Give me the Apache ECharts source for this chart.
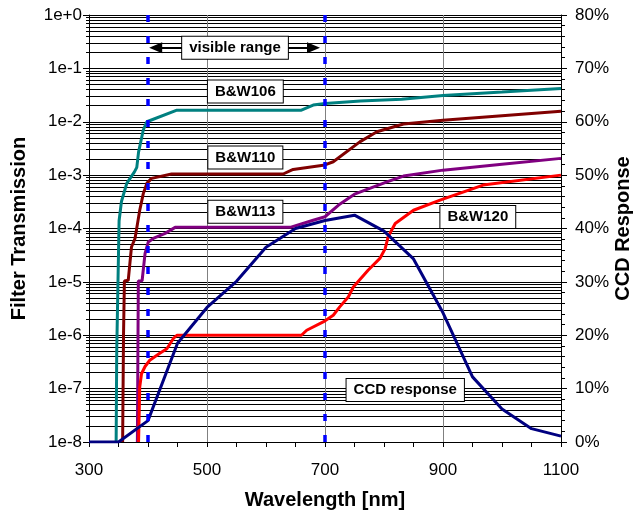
<!DOCTYPE html>
<html>
<head>
<meta charset="utf-8">
<script src="https://cdn.jsdelivr.net/npm/echarts@6/dist/echarts.min.js"></script>
<style>html,body{margin:0;padding:0;background:#fff;}#c{width:637px;height:512px;}</style>
</head>
<body>
<div id="c"></div>
<script>
// ---- data ----
var bw106Wl  = [346, 347, 351, 355, 364, 377, 381, 384, 392, 398, 449, 660, 680, 700, 760, 830, 900, 1000, 1100];
var bw106Val = [1e-8, 5e-7, 1.4e-4, 3.2e-4, 7e-4, 1.15e-3, 1.4e-3, 2.7e-3, 7e-3, 1e-2, 1.65e-2, 1.65e-2, 2.05e-2, 2.2e-2, 2.45e-2, 2.65e-2, 3.1e-2, 3.6e-2, 4.2e-2];

var bw110Wl  = [357, 358.5, 360, 366.5, 372, 378, 386, 392, 398, 406, 440, 629, 646, 700, 714, 759, 788, 833, 900, 1000, 1100];
var bw110Val = [1e-8, 1e-6, 1.04e-5, 1.07e-5, 4.5e-5, 6.5e-5, 2.2e-4, 4.5e-4, 7e-4, 8.7e-4, 1.05e-3, 1.05e-3, 1.28e-3, 1.55e-3, 1.78e-3, 4.2e-3, 6.5e-3, 9.1e-3, 1.07e-2, 1.3e-2, 1.57e-2];

var bw113Wl  = [382, 383.6, 390, 395, 400.5, 409, 429, 446, 641, 680, 700, 723, 750, 805, 833, 900, 1000, 1100];
var bw113Val = [1e-8, 1.04e-5, 1.05e-5, 3.4e-5, 5.6e-5, 6.5e-5, 8.1e-5, 1.05e-4, 1.05e-4, 1.43e-4, 1.66e-4, 2.75e-4, 4.4e-4, 7.5e-4, 9.6e-4, 1.24e-3, 1.6e-3, 2.06e-3];

var bw120Wl  = [384, 386, 389, 395, 403, 420, 432, 443, 449, 660, 669, 697, 714, 725, 739.5, 748, 773, 793, 802, 807, 819, 850, 895, 968, 1100];
var bw120Val = [1e-8, 1.07e-7, 1.9e-7, 2.6e-7, 3.4e-7, 4.6e-7, 5.6e-7, 8.7e-7, 1e-6, 1e-6, 1.24e-6, 1.78e-6, 2.37e-6, 3.4e-6, 5.2e-6, 8e-6, 1.65e-5, 2.75e-5, 4.2e-5, 7e-5, 1.24e-4, 2.2e-4, 3.4e-4, 6.5e-4, 1e-3];

var ccdWl  = [300, 350, 400, 450, 500, 550, 600, 650, 700, 750, 800, 850, 900, 950, 1000, 1050, 1100];
var ccdPct = [0, 0, 4, 18.5, 25.2, 30.1, 36.5, 40, 41.5, 42.5, 39.5, 34.3, 24.2, 12.2, 6.2, 2.5, 1.1];

var visibleRange = [400, 700];
var xTicks = {min: 300, max: 1100, interval: 200};
var logRange = {min: 1e-8, max: 1};
var pctTicks = {min: 0, max: 80, interval: 10};

// annotation anchors (data space)
var labels = [
  {text: 'B&W106', x: 565, y: 0.0368},
  {text: 'B&W110', x: 565, y: 2.13e-3},
  {text: 'B&W113', x: 565, y: 2.07e-4},
  {text: 'B&W120', x: 959, y: 1.65e-4},
  {text: 'CCD response', x: 836, y: 9.4e-8},
  {text: 'visible range', x: 547.5, y: 0.2426}
];
var arrowY = 0.2426;
var arrows = [[458.6, 413], [636, 680.5]];

function pairs(a, b) { return a.map(function (v, i) { return [v, b[i]]; }); }

var FONT = 'Liberation Sans, Arial, sans-serif';
var chart = echarts.init(document.getElementById('c'), null, {renderer: 'canvas'});

function lineSeries(name, wl, val, color, yIdx, z) {
  return {
    name: name, type: 'line', yAxisIndex: yIdx, data: pairs(wl, val),
    showSymbol: false, symbol: 'none', smooth: false, z: z,
    lineStyle: {color: color, width: 3}, itemStyle: {color: color},
    emphasis: {disabled: true}
  };
}

var option = {
  animation: false,
  backgroundColor: '#fff',
  textStyle: {fontFamily: FONT},
  grid: {left: 89, right: 76, top: 15, bottom: 70, containLabel: false, outerBoundsMode: 'none'},
  xAxis: {
    type: 'value', min: xTicks.min, max: xTicks.max, interval: xTicks.interval,
    name: 'Wavelength [nm]', nameLocation: 'middle', nameGap: 48,
    nameTextStyle: {fontFamily: FONT, fontSize: 20, fontWeight: 'bold', color: '#000'},
    axisLine: {show: true, lineStyle: {color: '#000', width: 1}},
    axisTick: {show: true, length: 5, lineStyle: {color: '#000'}},
    minorTick: {show: true, splitNumber: 4, length: 5, lineStyle: {color: '#000'}},
    axisLabel: {fontFamily: FONT, fontSize: 17, color: '#000', margin: 20,
      formatter: function (v) { return String(v); }},
    splitLine: {show: true, lineStyle: {color: '#808080', width: 1}}
  },
  yAxis: [
    {
      type: 'log', logBase: 10, min: logRange.min, max: logRange.max, splitNumber: 8,
      name: 'Filter Transmission', nameLocation: 'middle', nameGap: 60, nameRotate: 90,
      nameTextStyle: {fontFamily: FONT, fontSize: 20, fontWeight: 'bold', color: '#000'},
      axisLine: {show: true, lineStyle: {color: '#000', width: 1}},
      axisTick: {show: true, length: 6, lineStyle: {color: '#000'}},
      minorTick: {show: true, splitNumber: 9, length: 3, lineStyle: {color: '#000'}},
      axisLabel: {fontFamily: FONT, fontSize: 17, color: '#000', margin: 7,
        formatter: function (v) { var e = Math.round(Math.log10(v)); return '1e' + (e >= 0 ? '+' : '-') + Math.abs(e); }},
      splitLine: {show: true, lineStyle: {color: '#000', width: 1}},
      minorSplitLine: {show: true, lineStyle: {color: '#000', width: 1}}
    },
    {
      type: 'value', position: 'right', min: pctTicks.min, max: pctTicks.max, interval: pctTicks.interval,
      name: 'CCD Response', nameLocation: 'middle', nameGap: 52, nameRotate: 90, nameMoveOverlap: false,
      nameTextStyle: {fontFamily: FONT, fontSize: 20, fontWeight: 'bold', color: '#000'},
      axisLine: {show: true, lineStyle: {color: '#000', width: 1}},
      axisTick: {show: true, length: 6, lineStyle: {color: '#000'}},
      minorTick: {show: true, splitNumber: 5, length: 4, lineStyle: {color: '#000'}},
      axisLabel: {fontFamily: FONT, fontSize: 17, color: '#000', margin: 14, formatter: '{value}%'},
      splitLine: {show: false}
    }
  ],
  series: [
    lineSeries('B&W106', bw106Wl, bw106Val, '#008080', 0, 2),
    lineSeries('B&W110', bw110Wl, bw110Val, '#800000', 0, 2),
    lineSeries('B&W113', bw113Wl, bw113Val, '#800080', 0, 2),
    lineSeries('B&W120', bw120Wl, bw120Val, '#ff0000', 0, 2),
    lineSeries('CCD response', ccdWl, ccdPct, '#000080', 1, 3),
    {
      name: 'visible', type: 'line', yAxisIndex: 0, data: [], z: 4, silent: true,
      markLine: {
        silent: true, symbol: ['none', 'none'], animation: false,
        label: {show: false},
        lineStyle: {color: '#0000ff', width: 3.5, type: [7, 14]},
        data: visibleRange.map(function (v) { return {xAxis: v}; })
      }
    },
    {
      name: 'arrows', type: 'line', yAxisIndex: 0, data: [], z: 5, silent: true,
      markLine: {
        silent: true, symbol: ['none', 'triangle'], symbolSize: [11, 13], animation: false,
        label: {show: false},
        lineStyle: {color: '#000', width: 2, type: 'solid'},
        data: arrows.map(function (a) { return [{coord: [a[0], arrowY]}, {coord: [a[1], arrowY]}]; })
      },
      markPoint: {
        silent: true, animation: false, symbol: 'rect', symbolSize: 1,
        itemStyle: {color: 'rgba(0,0,0,0)'},
        label: {show: true, position: 'inside', fontFamily: FONT, fontSize: 15, fontWeight: 'bold', color: '#000',
          backgroundColor: '#fff', borderColor: '#000', borderWidth: 1, padding: [4, 7, 3, 7]},
        data: labels.map(function (l) { return {coord: [l.x, l.y], value: l.text, label: {formatter: l.text}}; })
      }
    }
  ]
};
chart.setOption(option);
</script>
</body>
</html>
